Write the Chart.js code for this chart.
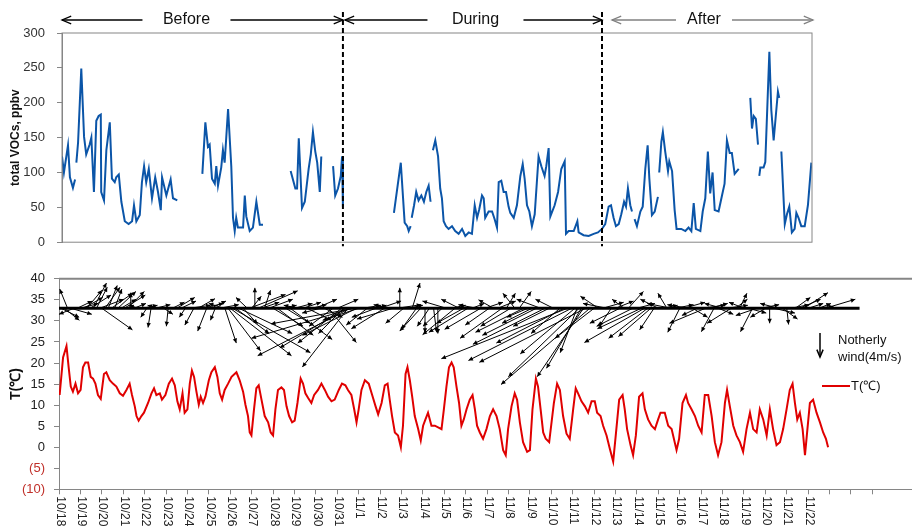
<!DOCTYPE html>
<html lang="en">
<head>
<meta charset="UTF-8">
<title>total VOCs and temperature / wind</title>
<script src="https://cdn.jsdelivr.net/npm/chart.js@4/dist/chart.umd.min.js"></script>
<style>
  body { margin: 0; background: #fff; }
  #wrap { position: relative; width: 912px; height: 527px; }
  #voc { position: absolute; left: 0; top: 0; }
  #met { position: absolute; left: 0; top: 262px; }
</style>
</head>
<body>
<div id="wrap">
  <canvas id="voc" width="912" height="262"></canvas>
  <canvas id="met" width="912" height="265"></canvas>
</div>
<script>
// ---- data (x in days since 10/18 00:00) ----
// total VOCs, ppbv  (null = no measurement)
const vocDay = [
  0.00,0.09,0.28,0.37,0.51,0.61, 0.64,
  0.67,0.75,0.90,1.03,1.13,1.29,1.37,1.49,1.60,1.71,1.81,1.83,1.96,2.07,2.23,2.33,2.46,2.53,2.65,2.77,2.93,3.11,3.27,3.36,3.47,3.63,3.73,3.83,3.93,4.05,4.20,4.35,4.48,4.61,4.67,4.87,5.07,5.18,5.38, 6.0,
  6.55,6.69,6.81,6.89,7.00,7.13,7.20,7.28,7.43,7.51,7.59,7.75,7.90,7.98,8.06,8.13,8.21,8.45,8.53,8.60,8.76,8.91,9.07,9.23,9.38, 10.0,
  10.67,10.89,10.97,11.05,11.20,11.33,11.51,11.61,11.71,11.82,11.91,12.03,12.10, 12.4,
  12.65,12.75,12.88,13.01,13.07,13.11, 14.0,
  15.49,15.81,15.99,16.11,16.18,16.27, 16.30,
  16.32,16.43,16.53,16.64,16.77,16.89,17.00,17.11,17.20, 17.25,
  17.31,17.42,17.55,17.65,17.73,17.81,17.92,18.04,18.20,18.35,18.51,18.67,18.82,18.98,19.13,19.26,19.37,19.47,19.60,19.68,
  19.75,19.91,20.07,20.19,20.30,20.38,20.50,20.61,20.72,20.84,20.92,21.08,21.23,21.39,21.50,21.59,21.70,21.81,21.93,22.06,
  22.24,22.37,22.52,22.60,22.71,22.79,22.99,23.15,23.30,23.46,23.52,23.64,23.88,24.05,24.11,24.34,24.58,24.81,25.01,25.20,
  25.35,25.51,25.62,25.74,25.85,25.98,26.10,26.23,26.32,26.41,26.52,26.60, 26.66,
  26.72,26.83,26.99,27.10,27.22,27.33,27.41,27.53,27.66,27.81, 27.84,
  27.87,27.97,28.04,28.15,28.28,28.34,28.47,28.59,28.68,28.90,29.09,29.24,29.37,29.48,29.58,
  29.79,29.90,30.02,30.14,30.25,30.36,30.46,30.64,30.80,30.92,31.03,31.16,31.26,31.39,31.58, 31.9,
  32.12,32.20,32.28,32.38,32.48, 32.51,
  32.54,32.59,32.74,32.82,33.01,33.10,33.21,33.31,33.41,33.47, 33.52,
  33.57,33.73,33.83,33.94,34.06,34.19,34.27,34.37,34.50,34.66,34.81,34.97
];
const vocVal = [
  123,100,139,93,78,90, null,
  114,143,249,151,126,140,150,72,174,181,183,72,60,132,172,91,86,93,97,58,30,26,30,53,30,39,86,109,86,105,63,93,72,46,93,67,90,63,60, null,
  98,172,137,140,91,84,109,81,107,132,114,191,109,35,16,35,21,21,67,37,16,21,58,25,25, null,
  102,77,77,149,49,58,105,126,158,130,114,72,123, null,
  109,67,77,95,123,51, null,
  42,114,28,23,16,23, null,
  35,53,72,60,67,58,72,81,58, null,
  132,146,123,77,63,30,23,19,23,16,12,19,9,14,12,53,35,47,67,63,
  35,44,44,33,21,86,88,72,72,51,42,35,53,95,112,91,53,44,23,40,
  123,109,95,109,135,37,53,72,105,116,12,16,16,30,14,10,9,12,14,19,
  26,51,53,35,23,26,40,58,51,77,53,44, null,
  33,23,44,51,105,139,91,39,44,65, null,
  100,144,158,130,102,116,102,46,19,19,16,21,16,56,19,
  16,44,63,130,70,100,46,44,67,84,146,128,128,98,105, null,
  207,163,181,177,140, null,
  95,107,107,115,273,190,146,181,216,207, null,
  130,26,40,51,14,19,42,35,23,23,53,114
];

// temperature, deg C
const tempDay = [
  0.03,0.19,0.35,0.45,0.55,0.65,0.77,0.89,1.01,1.12,
  1.23,1.36,1.48,1.59,1.70,1.82,1.95,2.10,2.21,2.37,
  2.52,2.68,2.84,2.99,3.15,3.30,3.41,3.54,3.62,3.72,
  3.85,3.97,4.16,4.32,4.44,4.55,4.71,4.81,4.97,5.13,
  5.28,5.41,5.53,5.64,5.77,5.87,6.00,6.11,6.21,6.31,
  6.42,6.53,6.62,6.73,6.84,7.00,7.12,7.28,7.40,7.51,
  7.62,7.74,7.90,8.06,8.29,8.44,8.60,8.71,8.83,8.91,
  8.99,9.11,9.22,9.33,9.46,9.61,9.77,9.89,10.00,10.11,
  10.23,10.39,10.51,10.63,10.75,10.89,11.01,11.14,11.29,11.40,
  11.51,11.64,11.79,11.92,12.10,12.26,12.42,12.57,12.73,12.88,
  13.07,13.22,13.38,13.50,13.66,13.79,13.90,14.00,14.13,14.29,
  14.47,14.63,14.79,14.91,15.07,15.22,15.35,15.45,15.56,15.69,
  15.84,15.97,16.07,16.19,16.28,16.39,16.50,16.62,16.78,16.90,
  17.01,17.12,17.24,17.40,17.56,17.87,17.98,18.10,18.22,18.34,
  18.44,18.57,18.69,18.80,18.91,19.04,19.19,19.32,19.43,19.53,
  19.66,19.81,19.97,20.13,20.28,20.44,20.59,20.75,20.87,20.98,
  21.14,21.29,21.40,21.53,21.68,21.87,22.00,22.12,22.28,22.38,
  22.50,22.62,22.74,22.90,23.12,23.27,23.40,23.55,23.71,23.86,
  24.02,24.14,24.25,24.41,24.57,24.72,24.88,25.03,25.14,25.30,
  25.42,25.58,25.73,25.89,26.01,26.17,26.33,26.43,26.54,26.70,
  26.82,26.95,27.10,27.26,27.37,27.52,27.68,27.84,27.99,28.10,
  28.30,28.46,28.62,28.85,28.97,29.13,29.29,29.39,29.55,29.71,
  29.86,30.02,30.17,30.33,30.49,30.64,30.79,30.95,31.11,31.21,
  31.34,31.50,31.65,31.81,31.96,32.12,32.28,32.43,32.59,32.74,
  32.90,33.06,33.21,33.36,33.52,33.68,33.83,33.99,34.14,34.27,
  34.38,34.49,34.61,34.74,34.85,34.95,35.08,35.23,35.39,35.55,
  35.70,35.83,35.93
];
const tempVal = [
  12.4,21.3,24,19,14.4,13.2,15.1,12.8,13.6,19,
  20.1,20.1,16.7,16.3,15.1,12.4,11.5,17.4,17.8,15.9,
  15.1,14.4,12.8,12.2,13.6,15.1,12.4,9.7,7.4,6.3,
  7.4,8.2,10.5,12.8,14,12.4,12.8,11.3,12.4,15.1,
  16.3,14.7,10.9,9,12.8,8.2,9,15.1,18.2,16.7,
  13.2,10.1,12,10.5,12,15.9,17.8,19,16.7,12.8,
  11.3,13.6,15.1,16.7,17.8,15.9,13.2,10.1,7.4,3.5,
  2.8,9,14,14.7,11.3,7.4,5.9,3.5,2.8,9,
  13.6,14.2,13.6,9.7,7.4,5.9,6.3,10.5,16.3,15.1,
  12.8,11.7,10.5,12.4,13.6,15.1,13.6,12,10.9,11.3,
  13.6,15.1,14.7,13.6,12.4,9,5.9,9,13.6,15.9,
  15.1,12.4,9.7,7.8,10.5,14.7,15.1,11.3,7.4,3.5,
  2.8,0,5.1,17.4,19,15.9,12,7.4,4.3,1.6,
  5.1,6.6,8.2,5.1,5.1,4.3,9,14.4,19,20.1,
  19,14.4,10.5,5.1,6.6,9,11.3,12.4,9,5.1,
  3.5,2,4.3,7.4,9,7.4,4.3,-0.7,-1.9,4.3,
  9.7,12.8,11.3,5.9,1.2,-1.1,-0.7,9,16.3,14.4,
  9,3.5,2,1.2,10.5,15.1,13.6,7.4,3.2,2,
  9,14,12.8,10.9,9.7,8.2,10.9,10.9,8.2,7.4,
  5.1,2.8,-0.3,-3.4,2.8,11.3,12.4,9,4.3,0.5,
  -1.9,2.8,12,12.8,9,6.6,5.1,4.3,6.6,8.2,
  8.2,5.1,4.3,-0.7,2,10.5,12.4,10.5,9,7.4,
  5.1,3.5,12.4,12.4,7.4,1.2,-1.9,1.2,10.5,13.6,
  9.7,5.1,2.8,1.2,-1.1,4.3,8.2,4.3,3.5,9,
  6.6,2.8,9,4.3,0.5,1.2,4.3,9,13.6,15.1,
  10.5,6.6,8.2,4.3,-1.9,3.5,10.5,11.3,8.2,5.9,
  3.5,2,0
];

// wind vectors: time (days), u (east, m/s), v (north, m/s)
const windDay = [
  0.1,0.25,0.4,0.55,0.7,0.85,1.0,1.15,1.3,1.45,
  1.6,1.75,1.9,2.0,2.15,2.3,2.45,2.6,2.75,2.9,
  3.05,3.2,3.35,3.5,3.7,3.9,4.1,4.3,4.5,4.7,
  4.9,5.1,5.3,5.5,5.7,5.9,6.1,6.3,6.5,6.7,
  6.9,7.1,7.3,7.5,7.7,7.75,7.9,8.0,8.1,8.25,
  8.4,8.6,8.8,8.9,9.0,9.15,9.3,9.45,9.6,9.8,
  10.0,10.2,10.4,10.6,10.8,11.0,11.2,11.4,11.6,11.8,
  12.0,12.2,12.4,12.6,12.8,13.0,13.2,13.3,13.4,13.5,
  13.6,13.7,13.8,13.9,14.0,14.2,14.4,14.6,14.8,15.0,
  15.2,15.4,15.6,15.8,15.92,16.1,16.3,16.5,16.7,16.9,
  17.1,17.3,17.5,17.7,17.9,18.1,18.3,18.5,18.7,18.9,
  19.1,19.3,19.5,19.7,19.9,20.1,20.3,20.5,20.7,20.9,
  21.1,21.3,21.5,21.7,21.9,22.1,22.3,22.5,22.7,22.9,
  23.1,23.4,23.6,23.75,23.95,24.1,24.2,24.3,24.4,24.5,
  24.6,24.8,25.0,25.2,25.4,25.6,25.8,26.0,26.2,26.4,
  26.6,26.8,27.0,27.2,27.35,27.5,27.65,27.8,28.0,28.2,
  28.4,28.6,28.8,29.0,29.2,29.4,29.6,29.8,30.0,30.2,
  30.4,30.6,30.8,31.0,31.2,31.4,31.6,31.8,32.0,32.2,
  32.4,32.6,32.8,33.0,33.2,33.4,33.6,33.8,34.0,34.2,
  34.4,34.6,34.8,35.0,35.2,35.5,35.8
];
const windU = [
  3,2.5,-1.3,3.5,-2.5,2.5,3,3.2,2.5,3.5,
  2.2,1.8,4,5.1,2.5,1.5,3.5,1.2,3,2.5,
  3.5,2.8,0,2,-1.5,2.5,-1,-0.5,2.5,-2,
  1.5,-0.3,2,3,2.5,-1,3.5,-1.5,2.8,3.5,
  -1.5,2.5,-0.8,3.2,-2.5,1.9,5.4,10.2,13,5.6,
  8.9,2.4,-1.9,6,1.6,0,6.6,3,1,4,
  5,6,2.5,4,7,3,-2.5,3,4,2.5,
  3.5,-3,3,4.6,-4,3.5,-7.3,-4.2,-11,-7.6,
  -15.4,-16.8,-13.9,-9,-6,3,-3.5,2.5,-4,3.5,
  -5.5,-2.5,-6,4,0,-3,2.5,1.3,-2.5,-3.5,
  0,-2,0.5,0,-3.2,-4,2.5,-5.4,-3,-4.5,
  -6.5,2,-3,-6,3,-4,-2.5,3,-7,1.5,
  -5,-2,2,-8,-3.5,-5,-9,-4,-12,-6,
  -3,-4.8,-11.3,-21,-17.2,-9.1,-2.8,-11.8,-5.8,-7.7,
  -17.7,-14.8,-6.5,-3,3.5,-4,-2,3,-5,-2,
  2.5,-6,3,-7.3,-10,-6.5,-5.4,-2.4,-3,2.5,
  -1.5,-4,3,-2,3.5,-3.5,2.5,-2.5,4,-6,
  3,-2.1,2.5,-3,3.5,-4,2,1.2,-2.5,3,
  -2,-3.5,3,-2.5,0,3.5,-3,2.5,0.3,3,
  2.5,3.5,4,2.5,3.5,2,5
];
const windV = [
  -1.5,-2,3.2,-1,-1,1.2,0.8,1.8,3,2.2,
  4.2,3.5,1.5,-3.6,3.5,3.8,2.5,3.2,2.8,1.5,
  2.2,2.8,2.6,0.8,0.5,0.5,-1.5,-3.2,0.6,0.5,
  -1,-3,1,1.8,1.2,-1.5,0.5,-2.8,1.6,0.8,
  -3.8,1.2,-2,0.6,0.8,-5.8,-7.1,-7.9,-7.4,-4.2,
  -4.2,-2.6,1.8,2.3,2,3.4,2.9,1,3,1.5,
  -3,-4.5,0.5,-2.5,-5.2,0.8,0.5,1,-2,0.6,
  1.5,-0.8,-1.5,-5.7,-3,1.5,-5.8,-4.2,-6.6,-9.8,
  -7.9,-5,-2.6,-4.5,-2,0.5,-2.8,0.5,-1.5,1.2,
  -3.4,0.6,-1.8,0.6,3.4,-2.5,0.5,4.2,-3.5,-3.8,
  -4.1,-3,-4,-4.2,-3,1.2,0.5,-4.4,1.5,-2.5,
  -4,0.8,0.6,-3.5,1,-2.8,1.4,1.2,-5,2.5,
  -3,2.5,2.8,-4,-1.5,-2.5,-4.5,1.5,-6,-3,
  1.5,-4.2,-5.8,-8.4,-8.7,-7.6,-7.4,-11.4,-10,-11.4,
  -9,-12.7,-5,2,1,0.8,-3,1.2,-2.5,1.5,
  2.8,-3,0.8,-3.4,-5.7,-5,-4.7,-3.6,1.5,0.5,
  2.5,0.8,0.6,-4,1,0.6,-1.5,-1.2,0.5,-2.5,
  0.8,-3.9,-1,0.8,0.5,-2.5,1.5,2.5,1,-0.8,
  -3.9,-1.2,0.6,-1.5,-2.5,-0.8,0.8,-1.8,-2.7,0.6,
  1.8,1.5,2.6,0.8,0.3,0.8,1.5
];

const dateLabels = [
  '10/18','10/19','10/20','10/21','10/22','10/23','10/24','10/25','10/26','10/27',
  '10/28','10/29','10/30','10/31','11/1','11/2','11/3','11/4','11/5','11/6',
  '11/7','11/8','11/9','11/10','11/11','11/12','11/13','11/14','11/15','11/16',
  '11/17','11/18','11/19','11/20','11/21','11/22'
];
const periodNames = ['Before', 'During', 'After'];
const periodBounds = [13.11, 25.2];   // dashed separators (days)
const windBaseT = 33;                 // T level where vectors start
const windBaseEnd = 37.4;
const legendWindSpeed = 4;            // m/s of the legend arrow

// ---- styles ----
const FONT = '"Liberation Sans", Arial, sans-serif';
const GRAY = '#868686';
const PX_PER_MS = 6;
const MET_TOP = 262;   // page y of the lower canvas
Chart.defaults.font.family = FONT;
Chart.defaults.color = '#222';

function drawArrow(ctx, x0, y0, x1, y1, head, open) {
  const a = Math.atan2(y1 - y0, x1 - x0);
  ctx.beginPath();
  ctx.moveTo(x0, y0);
  ctx.lineTo(x1, y1);
  ctx.stroke();
  const w = open ? 0.4 : 0.45;
  ctx.beginPath();
  ctx.moveTo(x1 - head * Math.cos(a - w), y1 - head * Math.sin(a - w));
  ctx.lineTo(x1, y1);
  ctx.lineTo(x1 - head * Math.cos(a + w), y1 - head * Math.sin(a + w));
  if (open) { ctx.stroke(); } else { ctx.closePath(); ctx.fill(); }
}

// header arrows, separators and frame of the VOC panel
const headerStyle = [
  { color: '#000', shift: -16, gap: 44, inset: [0, 0] },
  { color: '#000', shift: 3, gap: 48, inset: [2, 0] },
  { color: '#808080', shift: -3, gap: 28, inset: [10, 1] }
];
const vocDecor = {
  id: 'vocDecor',
  afterDraw(chart) {
    const { ctx, chartArea: ca, scales: { x } } = chart;
    ctx.save();
    ctx.strokeStyle = GRAY;
    ctx.lineWidth = 1;
    ctx.strokeRect(ca.left, ca.top, ca.right - ca.left, ca.bottom - ca.top);

    const seps = periodBounds.map(d => x.getPixelForValue(d));
    ctx.strokeStyle = '#000';
    ctx.lineWidth = 2;
    ctx.setLineDash([5, 3]);
    seps.forEach(px => {
      ctx.beginPath();
      ctx.moveTo(px, ca.top - 21);
      ctx.lineTo(px, ca.bottom + 4);
      ctx.stroke();
    });
    ctx.setLineDash([]);

    const edges = [ca.left].concat(seps, [ca.right]);
    const yh = 20;
    ctx.font = '16px ' + FONT;
    ctx.textAlign = 'center';
    ctx.textBaseline = 'middle';
    periodNames.forEach((name, i) => {
      const st = headerStyle[i];
      const a = edges[i] + st.inset[0], b = edges[i + 1] + st.inset[1];
      const mid = (edges[i] + edges[i + 1]) / 2 + st.shift;
      ctx.fillStyle = '#111';
      ctx.fillText(name, mid, yh);
      ctx.strokeStyle = st.color;
      ctx.lineWidth = 1.3;
      drawArrow(ctx, mid - st.gap, yh, a, yh, 10, true);
      drawArrow(ctx, mid + st.gap, yh, b, yh, 10, true);
    });
    ctx.restore();
  }
};

// wind vectors, date labels and top border of the lower panel
const metDecor = {
  id: 'metDecor',
  afterDatasetsDraw(chart) {
    const { ctx, chartArea: ca, scales: { x, y } } = chart;
    ctx.save();
    ctx.strokeStyle = GRAY;
    ctx.lineWidth = 2;
    ctx.beginPath();
    ctx.moveTo(ca.left, ca.top);
    ctx.lineTo(ca.right, ca.top);
    ctx.stroke();

    const by = y.getPixelForValue(windBaseT);
    ctx.strokeStyle = '#000';
    ctx.fillStyle = '#000';
    ctx.lineWidth = 3;
    ctx.beginPath();
    ctx.moveTo(x.getPixelForValue(0), by);
    ctx.lineTo(x.getPixelForValue(windBaseEnd), by);
    ctx.stroke();

    ctx.lineWidth = 1;
    windDay.forEach((d, i) => {
      const x0 = x.getPixelForValue(d);
      drawArrow(ctx, x0, by, x0 + windU[i] * PX_PER_MS, by - windV[i] * PX_PER_MS, 5, false);
    });

    // x tick labels, rotated clockwise
    ctx.font = '12px ' + FONT;
    ctx.fillStyle = '#222';
    ctx.textAlign = 'left';
    ctx.textBaseline = 'middle';
    dateLabels.forEach((lab, i) => {
      ctx.save();
      ctx.translate(x.getPixelForValue(i) + 1, ca.bottom + 7);
      ctx.rotate(Math.PI / 2);
      ctx.fillText(lab, 0, 0);
      ctx.restore();
    });
    ctx.restore();
  }
};

// legend of the lower panel (page coordinates shifted into the canvas)
const metLegend = {
  id: 'metLegend',
  afterDraw(chart) {
    const { ctx } = chart;
    ctx.save();
    ctx.translate(0, -MET_TOP);
    ctx.strokeStyle = '#000';
    ctx.lineWidth = 1.5;
    drawArrow(ctx, 820, 333, 820, 333 + legendWindSpeed * PX_PER_MS, 8, true);
    ctx.font = '13px ' + FONT;
    ctx.fillStyle = '#111';
    ctx.textAlign = 'left';
    ctx.textBaseline = 'middle';
    ctx.fillText('Notherly', 838, 340);
    ctx.fillText('wind(' + legendWindSpeed + 'm/s)', 838, 357);

    ctx.strokeStyle = '#e00000';
    ctx.lineWidth = 2;
    ctx.beginPath();
    ctx.moveTo(822, 386);
    ctx.lineTo(850, 386);
    ctx.stroke();
    ctx.fillText('T(℃)', 851, 386);
    ctx.restore();
  }
};

new Chart(document.getElementById('voc'), {
  type: 'line',
  data: {
    datasets: [{
      data: vocDay.map((d, i) => ({ x: d, y: vocVal[i] })),
      borderColor: '#0b55a8',
      borderWidth: 2,
      pointRadius: 0,
      spanGaps: false,
      tension: 0
    }]
  },
  options: {
    responsive: false,
    animation: false,
    layout: { padding: { top: 33, right: 100, bottom: 13.7, left: 0 } },
    plugins: { legend: { display: false }, tooltip: { enabled: false } },
    scales: {
      x: { type: 'linear', min: 0, max: 35, display: false },
      y: {
        min: 0, max: 300,
        ticks: { stepSize: 50, padding: 12, font: { size: 13 }, color: '#333' },
        grid: { drawOnChartArea: false, tickLength: 5, color: GRAY },
        border: { color: GRAY },
        title: { display: true, text: 'total VOCs, ppbv', font: { size: 12, weight: 'bold' }, color: '#111', padding: { top: 8, bottom: 0 } },
        afterFit: s => { s.width = 62; }
      }
    }
  },
  plugins: [vocDecor]
});

new Chart(document.getElementById('met'), {
  type: 'line',
  data: {
    datasets: [{
      data: tempDay.map((d, i) => ({ x: d, y: tempVal[i] })),
      borderColor: '#e00000',
      borderWidth: 2,
      pointRadius: 0,
      tension: 0
    }]
  },
  options: {
    responsive: false,
    animation: false,
    layout: { padding: { top: 11.3, right: 0, bottom: 32.7, left: 0 } },
    plugins: { legend: { display: false }, tooltip: { enabled: false } },
    scales: {
      x: {
        type: 'linear', min: 0, max: 39.85,
        ticks: { display: false, stepSize: 1 },
        grid: { drawOnChartArea: false, tickLength: 5, color: GRAY },
        border: { color: GRAY },
        afterBuildTicks: s => { s.ticks = s.ticks.filter(t => Number.isInteger(t.value)); },
        afterFit: s => { s.height = 5; }
      },
      y: {
        min: -10, max: 40,
        ticks: {
          stepSize: 5, padding: 9, font: { size: 13 },
          color: c => (c.tick && c.tick.value < 0 ? '#c0302a' : '#222'),
          callback: v => (v < 0 ? '(' + (-v) + ')' : v)
        },
        grid: { drawOnChartArea: false, tickLength: 5, color: GRAY },
        border: { color: GRAY },
        title: { display: true, text: 'T(℃)', font: { size: 14, weight: 'bold' }, color: '#111', padding: { top: 8, bottom: 0 } },
        afterFit: s => { s.width = 59; }
      }
    }
  },
  plugins: [metDecor, metLegend]
});
</script>
</body>
</html>
